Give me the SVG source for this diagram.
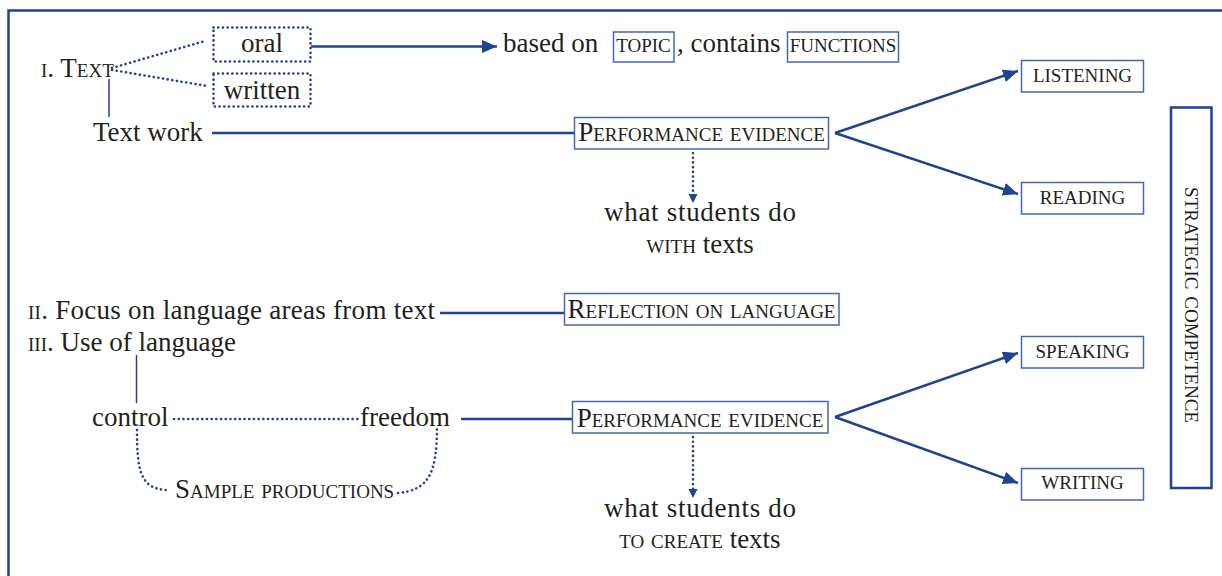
<svg xmlns="http://www.w3.org/2000/svg" width="1222" height="576" viewBox="0 0 1222 576">
<style>
text{font-family:"Liberation Serif","Times New Roman",serif;font-size:27px;fill:#231f20}
.sc{font-variant:small-caps}
.mid{text-anchor:middle}
.box{fill:#fff;stroke:#4468b2;stroke-width:1.5}
.dbox{fill:none;stroke:#1d4392;stroke-width:2.6;stroke-dasharray:0.1 4.6;stroke-linecap:round}
.ln{fill:none;stroke:#1d4392;stroke-width:2.5}
.thin{fill:none;stroke:#1d4392;stroke-width:1.5}
.dot{fill:none;stroke:#1d4392;stroke-width:2.6;stroke-dasharray:0.1 4.6;stroke-linecap:round}
</style>
<defs>
<marker id="ah" markerUnits="userSpaceOnUse" markerWidth="16" markerHeight="14" refX="15" refY="6.5" orient="auto">
<path d="M0,0 L15,6.5 L0,13 Z" fill="#1d4392"/>
</marker>
<marker id="sah" markerUnits="userSpaceOnUse" markerWidth="10" markerHeight="10" refX="9" refY="4.5" orient="auto">
<path d="M0,0 L9,4.5 L0,9 Z" fill="#1d4392"/>
</marker>
</defs>
<rect x="8.5" y="10.5" width="1240" height="600" fill="none" stroke="#1d4392" stroke-width="2.5"/>

<g id="connectors">
<line class="dot" x1="112" y1="68" x2="205" y2="41"/>
<line class="dot" x1="112" y1="70" x2="207" y2="86"/>
<line class="thin" x1="109" y1="79" x2="109" y2="117"/>
<line class="ln" x1="212" y1="133" x2="574" y2="133"/>
<line class="ln" x1="311" y1="46.5" x2="497" y2="46.5" marker-end="url(#ah)"/>
<line class="dot" x1="693" y1="153" x2="693" y2="203" marker-end="url(#sah)"/>
<line class="ln" x1="835" y1="133" x2="1018" y2="71" marker-end="url(#ah)"/>
<line class="ln" x1="835" y1="133" x2="1018" y2="194" marker-end="url(#ah)"/>
<line class="ln" x1="440" y1="313" x2="564" y2="313"/>
<line class="thin" x1="136.5" y1="355" x2="136.5" y2="403"/>
<line class="dot" x1="174" y1="419" x2="358" y2="419"/>
<line class="ln" x1="461" y1="419" x2="572" y2="419"/>
<path class="dot" d="M137,430 C137,470 140,489 167,490"/>
<path class="dot" d="M398,493 C428,490 437,475 437,426"/>
<line class="dot" x1="693" y1="437" x2="693" y2="498" marker-end="url(#sah)"/>
<line class="ln" x1="835" y1="417" x2="1018" y2="353" marker-end="url(#ah)"/>
<line class="ln" x1="835" y1="417" x2="1018" y2="483" marker-end="url(#ah)"/>
</g>

<g id="text-root"><text x="41" y="77" class="sc">i. Text</text></g>
<g id="oral"><rect class="dbox" x="213.5" y="27.5" width="97" height="34"/><text x="262" y="52" class="mid">oral</text></g>
<g id="written"><rect class="dbox" x="213.5" y="73.5" width="97" height="33"/><text x="262" y="99" class="mid">written</text></g>
<g id="text-work"><text x="93" y="141">Text work</text></g>
<g id="based-on">
<text x="503" y="52">based on</text>
<rect class="box" x="613.5" y="32" width="60.5" height="30"/>
<text x="643.5" y="52" class="sc mid">topic</text>
<text x="677" y="52">, contains</text>
<rect class="box" x="787.5" y="32" width="111" height="30"/>
<text x="843" y="52" class="sc mid">functions</text>
</g>
<g id="perf1"><rect class="box" x="574.5" y="117.5" width="254" height="31.5"/><text x="701.5" y="141" class="sc mid">Performance evidence</text></g>
<g id="with-texts"><text x="700" y="221" class="mid" textLength="192">what students do</text><text x="700" y="253" class="mid"><tspan class="sc">with</tspan> texts</text></g>
<g id="listening"><rect class="box" x="1021.5" y="60.5" width="122" height="31.5"/><text x="1082.5" y="82" class="sc mid">listening</text></g>
<g id="reading"><rect class="box" x="1021.5" y="182.5" width="122" height="31.5"/><text x="1082.5" y="203.5" class="sc mid">reading</text></g>
<g id="strategic"><rect x="1171" y="107.5" width="40.5" height="380.5" fill="#fff" stroke="#1d4392" stroke-width="2.5"/><text class="sc mid" transform="translate(1185,305) rotate(90)">strategic competence</text></g>
<g id="focus"><text x="28" y="319" textLength="407"><tspan class="sc">ii.</tspan> Focus on language areas from text</text></g>
<g id="reflection"><rect class="box" x="564.5" y="293.5" width="274.5" height="31.5"/><text x="701.5" y="318" class="sc mid">Reflection on language</text></g>
<g id="use"><text x="28" y="351"><tspan class="sc">iii.</tspan> Use of language</text></g>
<g id="control"><text x="92" y="426">control</text></g>
<g id="freedom"><text x="360" y="426">freedom</text></g>
<g id="sample"><text x="175" y="498" class="sc">Sample productions</text></g>
<g id="perf2"><rect class="box" x="572.5" y="401.5" width="255.5" height="31.5"/><text x="700" y="427" class="sc mid">Performance evidence</text></g>
<g id="create-texts"><text x="700" y="517" class="mid" textLength="192">what students do</text><text x="700" y="548" class="mid"><tspan class="sc">to create</tspan> texts</text></g>
<g id="speaking"><rect class="box" x="1021.5" y="336.5" width="122" height="31.5"/><text x="1082.5" y="358" class="sc mid">speaking</text></g>
<g id="writing"><rect class="box" x="1021.5" y="468.5" width="122" height="31.5"/><text x="1082.5" y="489" class="sc mid">writing</text></g>
</svg>
